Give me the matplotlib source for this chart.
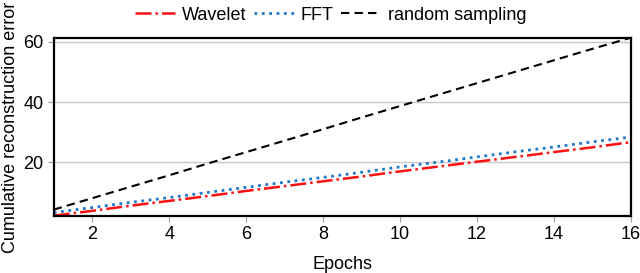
import numpy as np
import matplotlib
matplotlib.use("Agg")
import matplotlib.pyplot as plt

plt.rcParams['font.family'] = ['Liberation Sans', 'DejaVu Sans']

# values
epochs = np.arange(1, 17)
wavelet = [2.3, 3.9, 5.6, 7.2, 8.8, 10.5, 12.1, 13.7, 15.3, 17.0, 18.6, 20.2, 21.8, 23.4, 25.0, 26.7]
fft = [3.3, 5.0, 6.7, 8.3, 10.0, 11.7, 13.4, 15.0, 16.7, 18.5, 20.1, 21.8, 23.5, 25.1, 26.8, 28.4]
random_sampling = [4.3, 8.1, 11.9, 15.7, 19.6, 23.4, 27.2, 31.0, 34.9, 38.7, 42.5, 46.3, 50.1, 53.9, 57.7, 61.4]

fig = plt.figure(figsize=(6.4, 2.73), dpi=100)
ax = fig.add_axes([0.084, 0.209, 0.902, 0.652])

ax.plot(epochs, wavelet, color='#ff1010', ls='-.', lw=1.8, label='Wavelet')
ax.plot(epochs, fft, color='#1f77c8', ls=':', lw=2.0, label='FFT')
ax.plot(epochs, random_sampling, color='black', ls=(0, (4, 2.5)), lw=1.5, label='random sampling')

ax.set_xlim(1, 16)
ax.set_ylim(2.2, 61.3)
ax.set_xticks([2, 4, 6, 8, 10, 12, 14, 16])
ax.set_yticks([20, 40, 60])
ax.grid(axis='y', color='#c8c8c8', lw=1)
ax.set_axisbelow(True)
ax.tick_params(direction='out', color='#a0a0a0', length=4, labelsize=13)
for s in ax.spines.values():
    s.set_linewidth(1.6)

ax.set_xlabel('Epochs', fontsize=13, labelpad=9)
ax.set_ylabel('Cumulative reconstruction error', fontsize=13, labelpad=3)

ax.legend(loc='lower center', bbox_to_anchor=(0.48, 1.04), ncol=3, frameon=False,
          fontsize=13, handlelength=2.2, handletextpad=0.4, columnspacing=0.4,
          borderaxespad=0)

fig.savefig('out.png', dpi=100)
